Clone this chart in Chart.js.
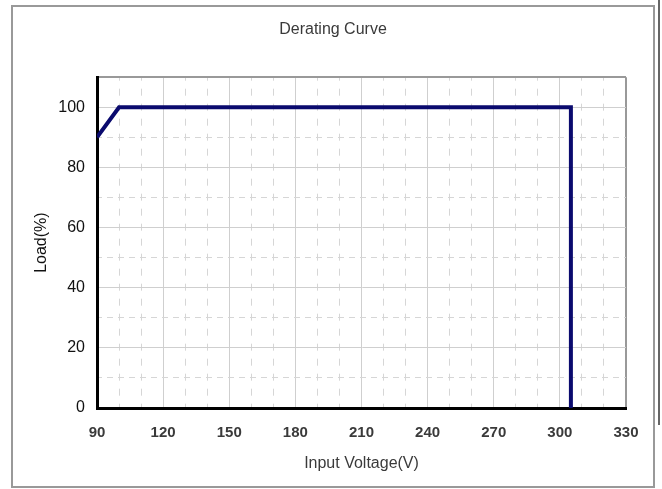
<!DOCTYPE html>
<html>
<head>
<meta charset="utf-8">
<script src="https://cdn.jsdelivr.net/npm/chart.js@4/dist/chart.umd.min.js"></script>
<style>
    html, body { margin: 0; padding: 0; background: #fff; }
    #frame { position: absolute; left: 11px; top: 5px; width: 640px; height: 479px; border: 2px solid #999; }
    #edge { position: absolute; left: 658px; top: 0; width: 2px; height: 425px; background: #666; }
    #wrap { position: absolute; left: 0; top: 0; width: 662px; height: 489px; }
</style>
</head>
<body>
<div id="frame"></div>
<div id="edge"></div>
<div id="wrap"><canvas id="derating" width="662" height="489"></canvas></div>
<script>
const voltages = [90, 100, 305, 305];
const loads = [90, 100, 100, 0];
const xTickLabels = [90, 120, 150, 180, 210, 240, 270, 300, 330];
const yTickLabels = [0, 20, 40, 60, 80, 100];

document.addEventListener('DOMContentLoaded', () => {
    const canvas = document.getElementById('derating');
    const points = voltages.map((v, i) => ({ x: v, y: loads[i] }));

    const fuzzy = '#3a3a3a';

    new Chart(canvas, {
        type: 'line',
        data: {
            datasets: [{
                data: points,
                borderColor: '#0a0a6e',
                borderWidth: 4,
                pointRadius: 0,
                tension: 0,
                borderJoinStyle: 'miter',
                borderCapStyle: 'butt',
            }],
        },
        options: {
            responsive: false,
            animation: false,
            devicePixelRatio: 1,
            layout: {
                padding: { left: 40, right: 36, top: 0, bottom: 0 },
            },
            plugins: {
                legend: { display: false },
                tooltip: { enabled: false },
                title: {
                    display: true,
                    text: 'Derating Curve',
                    color: fuzzy,
                    font: { family: 'Liberation Sans, Arial', size: 16, weight: 'normal' },
                    padding: { top: 20, bottom: 38 },
                },
            },
            scales: {
                x: {
                    type: 'linear',
                    min: 90,
                    max: 330,
                    afterFit: (scale) => { scale.height = 81; },
                    ticks: {
                        stepSize: 10,
                        autoSkip: false,
                        maxRotation: 0,
                        padding: 16,
                        color: fuzzy,
                        font: { family: 'Liberation Sans, Arial', size: 15, weight: 'bold' },
                        callback: (v) => xTickLabels.includes(v) ? String(v) : '',
                    },
                    grid: {
                        drawTicks: false,
                        color: (ctx) => ctx.tick && ctx.tick.value === 330 ? '#999' : (ctx.tick && (ctx.tick.value - 90) % 30 === 0 ? '#cfcfcf' : '#d6d6d6'),
                        lineWidth: (ctx) => ctx.tick && ctx.tick.value === 330 ? 2 : 1,
                    },
                    border: {
                        color: '#000',
                        width: 3,
                        dash: (ctx) => ctx.tick && (ctx.tick.value - 90) % 30 !== 0 ? [7, 8] : [],
                        dashOffset: 3.5,
                    },
                    title: {
                        display: true,
                        text: 'Input Voltage(V)',
                        color: fuzzy,
                        font: { family: 'Liberation Sans, Arial', size: 16 },
                        padding: { top: 0, bottom: 16 },
                    },
                },
                y: {
                    min: 0,
                    max: 110,
                    afterFit: (scale) => { scale.width = 57; },
                    ticks: {
                        stepSize: 10,
                        autoSkip: false,
                        padding: 12,
                        color: '#111',
                        font: { family: 'Liberation Sans, Arial', size: 16 },
                        callback: (v) => yTickLabels.includes(v) ? String(v) : '',
                    },
                    grid: {
                        drawTicks: false,
                        color: (ctx) => ctx.tick && ctx.tick.value === 110 ? '#999' : (ctx.tick && ctx.tick.value % 20 === 0 ? '#cfcfcf' : '#d6d6d6'),
                        lineWidth: (ctx) => ctx.tick && ctx.tick.value === 110 ? 2 : 1,
                    },
                    border: {
                        color: '#000',
                        width: 3,
                        dash: (ctx) => ctx.tick && ctx.tick.value % 20 !== 0 && ctx.tick.value !== 110 ? [6, 5] : [],
                        dashOffset: 3,
                    },
                    title: {
                        display: true,
                        text: 'Load(%)',
                        color: '#111',
                        font: { family: 'Liberation Sans, Arial', size: 16 },
                        padding: { top: -8, bottom: 0 },
                    },
                },
            },
        },
    });
});
</script>
</body>
</html>
